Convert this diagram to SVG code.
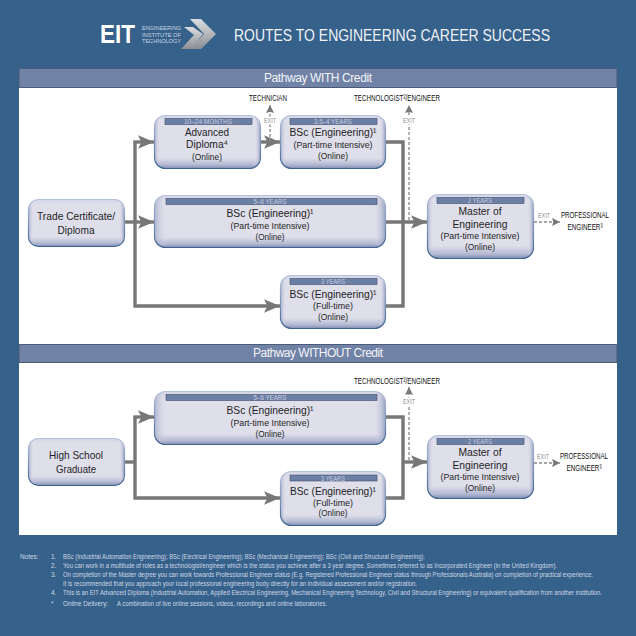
<svg xmlns="http://www.w3.org/2000/svg" width="636" height="636" viewBox="0 0 636 636">
<style>
text{font-family:"Liberation Sans",Arial,sans-serif;text-anchor:middle;fill:#1e1e26}
.n{fill:url(#nodeV);stroke:url(#edge);stroke-width:1.2}
.o{fill:url(#nodeH);stroke:none}
.b{fill:#6c7fa4;stroke:#3f4c68;stroke-width:.6}
.y{font-size:6.500px;fill:#c4cde0}
.t{font-size:11.500px}
.s{font-size:9.500px}
.l{font-size:9px;fill:#111}
.e{font-size:8px;fill:#8a8a8a;paint-order:stroke;stroke:#fff;stroke-width:3px}
.h{fill:#7082a6;stroke:#4d5b79;stroke-width:1}
.ht{font-size:12px;fill:#f2f4f8}
.c{fill:none;stroke:#777;stroke-width:3.4}
.d{fill:none;stroke:#888;stroke-width:1.3;stroke-dasharray:3 2}
.nt{font-size:6.400px;fill:#cdd8e6;text-anchor:start}
</style>
<defs>
<linearGradient id="nodeV" x1="0" y1="0" x2="0" y2="1">
<stop offset="0" stop-color="#d3d6e8"/><stop offset=".1" stop-color="#dfdfea"/><stop offset=".8" stop-color="#dedfea"/><stop offset=".93" stop-color="#b4b9d2"/><stop offset="1" stop-color="#7f8cb2"/>
</linearGradient>
<linearGradient id="edge" x1="0" y1="0" x2="0" y2="1">
<stop offset="0" stop-color="#b6c1da"/><stop offset=".5" stop-color="#7f95b9"/><stop offset="1" stop-color="#3d6392"/>
</linearGradient>
<linearGradient id="nodeH" x1="0" y1="0" x2="1" y2="0">
<stop offset="0" stop-color="#9ea6c6" stop-opacity=".7"/><stop offset=".05" stop-color="#dfdfea" stop-opacity="0"/><stop offset=".95" stop-color="#dfdfea" stop-opacity="0"/><stop offset="1" stop-color="#8f98bc" stop-opacity=".8"/>
</linearGradient>
<linearGradient id="chev" x1="0" y1="0" x2="0" y2="1">
<stop offset="0" stop-color="#dcdde0"/><stop offset="1" stop-color="#8b8f95"/>
</linearGradient>
<marker id="big" markerUnits="userSpaceOnUse" markerWidth="16" markerHeight="14" refX="14" refY="6" orient="auto" viewBox="0 0 14 12">
<path d="M0 0L14 6L0 12L3 6Z" fill="#777"/>
</marker>
<marker id="sm" markerUnits="userSpaceOnUse" markerWidth="8" markerHeight="8" refX="7" refY="3.500" orient="auto" viewBox="0 0 7 7">
<path d="M0 0L7 3.500L0 7L1.200 3.500Z" fill="#777"/>
</marker>
</defs>
<rect width="636" height="636" fill="#36618a"/>
<g id="logo">
<text x="117.500" y="43" font-size="25" font-weight="bold" style="fill:#fff" textLength="35" lengthAdjust="spacingAndGlyphs">EIT</text>
<g style="font-size:5.800px">
<text x="161.500" y="30" style="fill:#c9d5e2" textLength="39" lengthAdjust="spacingAndGlyphs">ENGINEERING</text>
<text x="161.500" y="36.500" style="fill:#c9d5e2" textLength="39" lengthAdjust="spacingAndGlyphs">INSTITUTE OF</text>
<text x="161.500" y="43" style="fill:#c9d5e2" textLength="39" lengthAdjust="spacingAndGlyphs">TECHNOLOGY</text>
</g>
<polygon points="190,19 201,19 216,34 201,49 190,49 204,34" fill="url(#chev)"/>
<polygon points="184,27 193,27 203,34 191,49 181,49 194,35" fill="url(#chev)"/>
</g>
<text x="392" y="41" style="font-size:17px;fill:#eef2f7" textLength="316" lengthAdjust="spacingAndGlyphs">ROUTES TO ENGINEERING CAREER SUCCESS</text>
<rect x="19" y="87" width="598" height="257" fill="#fff"/>
<rect x="19" y="362" width="598" height="173" fill="#fff"/>
<g id="head1"><rect class="h" x="19" y="68.500" width="598" height="19"/><text class="ht" x="318" y="81.500" textLength="108" lengthAdjust="spacing">Pathway WITH Credit</text></g>
<g id="head2"><rect class="h" x="19" y="344.500" width="598" height="18"/><text class="ht" x="318" y="357" textLength="130" lengthAdjust="spacing">Pathway WITHOUT Credit</text></g>
<g id="connectors">
<path class="c" d="M125 222H154" marker-end="url(#big)"/>
<path class="c" d="M135 142V306H280" marker-end="url(#big)"/>
<path class="c" d="M133.300 142H154" marker-end="url(#big)"/>
<path class="c" d="M261 142H280" marker-end="url(#big)"/>
<path class="c" d="M386 142H403V306H386"/>
<path class="c" d="M386 222H427" marker-end="url(#big)"/>
<path class="d" d="M270 142V105" marker-end="url(#sm)"/>
<path class="d" d="M409 220V105" marker-end="url(#sm)"/>
<path class="d" d="M534 222H560" marker-end="url(#sm)"/>
<path class="c" d="M125 462H135"/>
<path class="c" d="M135 417V498H280" marker-end="url(#big)"/>
<path class="c" d="M133.300 417H154" marker-end="url(#big)"/>
<path class="c" d="M386 417H403V498H386"/>
<path class="c" d="M403 462H427" marker-end="url(#big)"/>
<path class="d" d="M409 460V387" marker-end="url(#sm)"/>
<path class="d" d="M534 463H560" marker-end="url(#sm)"/>
</g>
<g id="labels">
<text class="l" x="268" y="101" textLength="38" lengthAdjust="spacingAndGlyphs">TECHNICIAN</text>
<text class="l" x="397" y="101" textLength="86" lengthAdjust="spacingAndGlyphs">TECHNOLOGIST²/ENGINEER</text>
<text class="e" x="270" y="123" textLength="12" lengthAdjust="spacingAndGlyphs">EXIT</text>
<text class="e" x="409" y="123" textLength="12" lengthAdjust="spacingAndGlyphs">EXIT</text>
<text class="e" x="544" y="218" textLength="12" lengthAdjust="spacingAndGlyphs">EXIT</text>
<text class="l" x="585" y="218" textLength="48" lengthAdjust="spacingAndGlyphs">PROFESSIONAL</text>
<text class="l" x="585" y="230" textLength="35" lengthAdjust="spacingAndGlyphs">ENGINEER³</text>
<text class="l" x="397" y="384" textLength="86" lengthAdjust="spacingAndGlyphs">TECHNOLOGIST²/ENGINEER</text>
<text class="e" x="409" y="404" textLength="12" lengthAdjust="spacingAndGlyphs">EXIT</text>
<text class="e" x="543" y="459" textLength="12" lengthAdjust="spacingAndGlyphs">EXIT</text>
<text class="l" x="584" y="459" textLength="48" lengthAdjust="spacingAndGlyphs">PROFESSIONAL</text>
<text class="l" x="584" y="471" textLength="35" lengthAdjust="spacingAndGlyphs">ENGINEER³</text>
</g>
<g id="trade"><rect class="n" x="28.500" y="199.500" width="96" height="47" rx="10"/><rect class="o" x="29" y="200" width="95" height="46" rx="10"/>
<text class="t" x="76" y="220" textLength="78" lengthAdjust="spacingAndGlyphs">Trade Certificate/</text><text class="t" x="76" y="234" textLength="37" lengthAdjust="spacingAndGlyphs">Diploma</text></g>
<g id="advanced"><rect class="n" x="154.500" y="115.500" width="106" height="53" rx="11"/><rect class="o" x="155" y="116" width="105" height="52" rx="11"/>
<rect class="b" x="165" y="118.500" width="87" height="6"/><text class="y" x="208" y="124" textLength="48" lengthAdjust="spacingAndGlyphs">10–24 MONTHS</text>
<text class="t" x="207" y="136" textLength="44" lengthAdjust="spacingAndGlyphs">Advanced</text><text class="t" x="207" y="148" textLength="42" lengthAdjust="spacingAndGlyphs">Diploma⁴</text><text class="s" x="207" y="160" textLength="30" lengthAdjust="spacingAndGlyphs">(Online)</text></g>
<g id="bsc35"><rect class="n" x="280.500" y="115.500" width="105" height="53" rx="11"/><rect class="o" x="281" y="116" width="104" height="52" rx="11"/>
<rect class="b" x="290" y="118.500" width="87" height="6"/><text class="y" x="333" y="124" textLength="38" lengthAdjust="spacingAndGlyphs">3.5–4 YEARS</text>
<text class="t" x="333" y="136" textLength="87" lengthAdjust="spacingAndGlyphs">BSc (Engineering)¹</text><text class="s" x="333" y="148" textLength="79" lengthAdjust="spacingAndGlyphs">(Part-time Intensive)</text><text class="s" x="333" y="159" textLength="30" lengthAdjust="spacingAndGlyphs">(Online)</text></g>
<g id="bsc56"><rect class="n" x="154.500" y="195.500" width="231" height="52" rx="11"/><rect class="o" x="155" y="196" width="230" height="51" rx="11"/>
<rect class="b" x="166" y="198.500" width="211" height="6"/><text class="y" x="270" y="204" textLength="33" lengthAdjust="spacingAndGlyphs">5–6 YEARS</text>
<text class="t" x="270" y="217" textLength="87" lengthAdjust="spacingAndGlyphs">BSc (Engineering)¹</text><text class="s" x="270" y="229" textLength="79" lengthAdjust="spacingAndGlyphs">(Part-time Intensive)</text><text class="s" x="270" y="240" textLength="29" lengthAdjust="spacingAndGlyphs">(Online)</text></g>
<g id="master1"><rect class="n" x="427.500" y="194.500" width="106" height="64" rx="11"/><rect class="o" x="428" y="195" width="105" height="63" rx="11"/>
<rect class="b" x="437" y="197.500" width="87" height="6"/><text class="y" x="480" y="203" textLength="24" lengthAdjust="spacingAndGlyphs">2 YEARS</text>
<text class="t" x="480" y="215" textLength="43" lengthAdjust="spacingAndGlyphs">Master of</text><text class="t" x="480" y="228" textLength="55" lengthAdjust="spacingAndGlyphs">Engineering</text><text class="s" x="480" y="239" textLength="79" lengthAdjust="spacingAndGlyphs">(Part-time Intensive)</text><text class="s" x="480" y="250" textLength="30" lengthAdjust="spacingAndGlyphs">(Online)</text></g>
<g id="bsc3"><rect class="n" x="280.500" y="275.500" width="105" height="53" rx="11"/><rect class="o" x="281" y="276" width="104" height="52" rx="11"/>
<rect class="b" x="290" y="278.500" width="87" height="6"/><text class="y" x="333" y="284" textLength="24" lengthAdjust="spacingAndGlyphs">3 YEARS</text>
<text class="t" x="333" y="298" textLength="87" lengthAdjust="spacingAndGlyphs">BSc (Engineering)¹</text><text class="s" x="333" y="309" textLength="40" lengthAdjust="spacingAndGlyphs">(Full-time)</text><text class="s" x="333" y="320" textLength="30" lengthAdjust="spacingAndGlyphs">(Online)</text></g>
<g id="school"><rect class="n" x="28.500" y="438.500" width="96" height="47" rx="10"/><rect class="o" x="29" y="439" width="95" height="46" rx="10"/>
<text class="t" x="76" y="459" textLength="54" lengthAdjust="spacingAndGlyphs">High School</text><text class="t" x="76" y="473" textLength="40" lengthAdjust="spacingAndGlyphs">Graduate</text></g>
<g id="bsc56b"><rect class="n" x="154.500" y="391.500" width="231" height="53" rx="11"/><rect class="o" x="155" y="392" width="230" height="52" rx="11"/>
<rect class="b" x="166" y="394.500" width="211" height="6"/><text class="y" x="270" y="400" textLength="33" lengthAdjust="spacingAndGlyphs">5–6 YEARS</text>
<text class="t" x="270" y="414" textLength="87" lengthAdjust="spacingAndGlyphs">BSc (Engineering)¹</text><text class="s" x="270" y="426" textLength="79" lengthAdjust="spacingAndGlyphs">(Part-time Intensive)</text><text class="s" x="270" y="437" textLength="29" lengthAdjust="spacingAndGlyphs">(Online)</text></g>
<g id="bsc3b"><rect class="n" x="280.500" y="471.500" width="105" height="54" rx="11"/><rect class="o" x="281" y="472" width="104" height="53" rx="11"/>
<rect class="b" x="290" y="475" width="87" height="6"/><text class="y" x="333" y="480.500" textLength="24" lengthAdjust="spacingAndGlyphs">3 YEARS</text>
<text class="t" x="333" y="495" textLength="86" lengthAdjust="spacingAndGlyphs">BSc (Engineering)¹</text><text class="s" x="333" y="506" textLength="40" lengthAdjust="spacingAndGlyphs">(Full-time)</text><text class="s" x="333" y="516" textLength="29" lengthAdjust="spacingAndGlyphs">(Online)</text></g>
<g id="master2"><rect class="n" x="427.500" y="435.500" width="106" height="63" rx="11"/><rect class="o" x="428" y="436" width="105" height="62" rx="11"/>
<rect class="b" x="437" y="438.500" width="87" height="6"/><text class="y" x="480" y="444" textLength="24" lengthAdjust="spacingAndGlyphs">2 YEARS</text>
<text class="t" x="480" y="456" textLength="43" lengthAdjust="spacingAndGlyphs">Master of</text><text class="t" x="480" y="469" textLength="55" lengthAdjust="spacingAndGlyphs">Engineering</text><text class="s" x="480" y="480" textLength="79" lengthAdjust="spacingAndGlyphs">(Part-time Intensive)</text><text class="s" x="480" y="491" textLength="30" lengthAdjust="spacingAndGlyphs">(Online)</text></g>
<g id="notes">
<text class="nt" x="20" y="559">Notes:</text>
<text class="nt" x="51" y="559">1.</text><text class="nt" x="63" y="559" textLength="362" lengthAdjust="spacingAndGlyphs">BSc (Industrial Automation Engineering); BSc (Electrical Engineering); BSc (Mechanical Engineering); BSc (Civil and Structural Engineering).</text>
<text class="nt" x="51" y="568">2.</text><text class="nt" x="63" y="568" textLength="494" lengthAdjust="spacingAndGlyphs">You can work in a multitude of roles as a technologist/engineer which is the status you achieve after a 3 year degree. Sometimes referred to as Incorporated Engineer (in the United Kingdom).</text>
<text class="nt" x="51" y="577">3.</text><text class="nt" x="63" y="577" textLength="530" lengthAdjust="spacingAndGlyphs">On completion of the Master degree you can work towards Professional Engineer status (E.g. Registered Professional Engineer status through Professionals Australia) on completion of practical experience.</text>
<text class="nt" x="63" y="586" textLength="354" lengthAdjust="spacingAndGlyphs">It is recommended that you approach your local professional engineering body directly for an individual assessment and/or registration.</text>
<text class="nt" x="51" y="595">4.</text><text class="nt" x="63" y="595" textLength="539" lengthAdjust="spacingAndGlyphs">This is an EIT Advanced Diploma (Industrial Automation, Applied Electrical Engineering, Mechanical Engineering Technology, Civil and Structural Engineering) or equivalent qualification from another institution.</text>
<text class="nt" x="51" y="606">*</text><text class="nt" x="63" y="606">Online Delivery:</text><text class="nt" x="117" y="606" textLength="210" lengthAdjust="spacingAndGlyphs">A combination of live online sessions, videos, recordings and online laboratories.</text>
</g>
</svg>
